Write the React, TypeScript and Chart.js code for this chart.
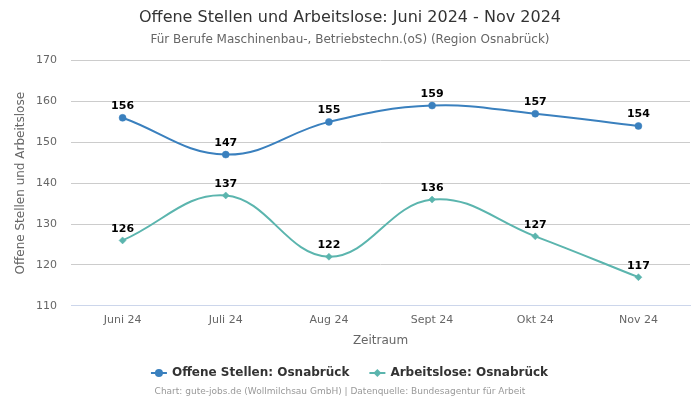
import React, { useEffect, useRef } from "react";
import { Chart, registerables } from "chart.js";

Chart.register(...registerables);

const categories = ["Juni 24", "Juli 24", "Aug 24", "Sept 24", "Okt 24", "Nov 24"];
const offeneStellen = [156, 147, 155, 159, 157, 154];
const arbeitslose = [126, 137, 122, 136, 127, 117];
const yTicks = [110, 120, 130, 140, 150, 160, 170];

const BLUE = "#3a80be";
const TEAL = "#5bb5ae";
const FONT = "'DejaVu Sans', sans-serif";

const dataLabels = {
  id: "dataLabels",
  afterDatasetsDraw(chart: any) {
    const ctx = chart.ctx;
    ctx.save();
    ctx.font = `bold 11px ${FONT}`;
    ctx.fillStyle = "#000";
    ctx.textAlign = "center";
    ctx.textBaseline = "bottom";
    chart.data.datasets.forEach((ds: any, i: number) => {
      const meta = chart.getDatasetMeta(i);
      meta.data.forEach((pt: any, j: number) => {
        ctx.fillText(String(ds.data[j]), pt.x, pt.y - 6);
      });
    });
    ctx.restore();
  },
};

const customLegend = {
  id: "customLegend",
  afterDraw(chart: any) {
    const ctx = chart.ctx;
    ctx.save();
    ctx.font = `bold 12px ${FONT}`;
    const items = chart.data.datasets.map((ds: any, i: number) => ({
      text: ds.label,
      color: ds.borderColor,
      style: i === 0 ? "circle" : "diamond",
      w: ctx.measureText(ds.label).width,
    }));
    const iconW = 16;
    const gapText = 5;
    const gapItem = 20;
    let total = 0;
    items.forEach((it: any, i: number) => {
      total += iconW + gapText + it.w + (i < items.length - 1 ? gapItem : 0);
    });
    let x = 349.5 - total / 2;
    const y = 373;
    items.forEach((it: any) => {
      ctx.strokeStyle = it.color;
      ctx.fillStyle = it.color;
      ctx.lineWidth = 2;
      ctx.beginPath();
      ctx.moveTo(x, y);
      ctx.lineTo(x + iconW, y);
      ctx.stroke();
      const cx = x + iconW / 2;
      ctx.beginPath();
      if (it.style === "circle") {
        ctx.arc(cx, y, 4, 0, Math.PI * 2);
      } else {
        ctx.moveTo(cx, y - 4);
        ctx.lineTo(cx + 4, y);
        ctx.lineTo(cx, y + 4);
        ctx.lineTo(cx - 4, y);
        ctx.closePath();
      }
      ctx.fill();
      ctx.fillStyle = "#333";
      ctx.textAlign = "left";
      ctx.textBaseline = "middle";
      ctx.fillText(it.text, x + iconW + gapText, y);
      x += iconW + gapText + it.w + gapItem;
    });
    ctx.font = `9px ${FONT}`;
    ctx.fillStyle = "#999";
    ctx.textAlign = "center";
    ctx.textBaseline = "middle";
    ctx.fillText(
      "Chart: gute-jobs.de (Wollmilchsau GmbH) | Datenquelle: Bundesagentur für Arbeit",
      340,
      392
    );
    ctx.restore();
  },
};

export default function App() {
  const ref = useRef<HTMLCanvasElement>(null);
  useEffect(() => {
    const chart = new Chart(ref.current!, {
      type: "line",
      data: {
        labels: categories,
        datasets: [
          {
            label: "Offene Stellen: Osnabrück",
            data: offeneStellen,
            borderColor: BLUE,
            backgroundColor: BLUE,
            borderWidth: 2,
            pointStyle: "circle",
            pointRadius: 3.5,
            pointBorderWidth: 0.5,
            pointHoverRadius: 3.5,
            tension: 0.4,
          },
          {
            label: "Arbeitslose: Osnabrück",
            data: arbeitslose,
            borderColor: TEAL,
            backgroundColor: TEAL,
            borderWidth: 2,
            pointStyle: "rectRot",
            pointRadius: 3.5,
            pointBorderWidth: 0.5,
            pointHoverRadius: 3.5,
            tension: 0.4,
          },
        ],
      },
      options: {
        animation: false,
        responsive: false,
        maintainAspectRatio: false,
        layout: { padding: { left: 10, right: 10, bottom: 49, top: 0 } },
        plugins: {
          title: {
            display: true,
            text: "Offene Stellen und Arbeitslose: Juni 2024 - Nov 2024",
            color: "#333",
            font: { family: FONT, size: 16, weight: "normal" },
            padding: { top: 8, bottom: 5 },
          },
          subtitle: {
            display: true,
            text: "Für Berufe Maschinenbau-, Betriebstechn.(oS) (Region Osnabrück)",
            color: "#666",
            font: { family: FONT, size: 12 },
            padding: { bottom: 14 },
          },
          legend: { display: false },
          tooltip: { enabled: false },
        },
        scales: {
          x: {
            offset: true,
            grid: { display: false, drawTicks: false },
            border: { color: "#ccd6eb" },
            ticks: { color: "#666", font: { family: FONT, size: 11 }, padding: 8 },
            title: {
              display: true,
              text: "Zeitraum",
              color: "#666",
              font: { family: FONT, size: 12, lineHeight: 1 },
              padding: { top: 0, bottom: 4 },
            },
          },
          y: {
            min: 110,
            max: 170,
            afterBuildTicks(axis: any) {
              axis.ticks = yTicks.map((v) => ({ value: v }));
            },
            afterFit(axis: any) {
              axis.width = 61;
            },
            grid: { color: "#cccccc", drawTicks: false },
            border: { display: false },
            ticks: { color: "#666", font: { family: FONT, size: 11 }, padding: 14 },
            title: {
              display: true,
              text: "Offene Stellen und Arbeitslose",
              color: "#666",
              font: { family: FONT, size: 12 },
            },
          },
        },
      } as any,
      plugins: [dataLabels, customLegend],
    });
    return () => chart.destroy();
  }, []);
  return (
    <div style={{ position: "fixed", left: 0, top: 0, width: 700, height: 400, background: "#fff" }}>
      <canvas ref={ref} width={700} height={400} />
    </div>
  );
}
